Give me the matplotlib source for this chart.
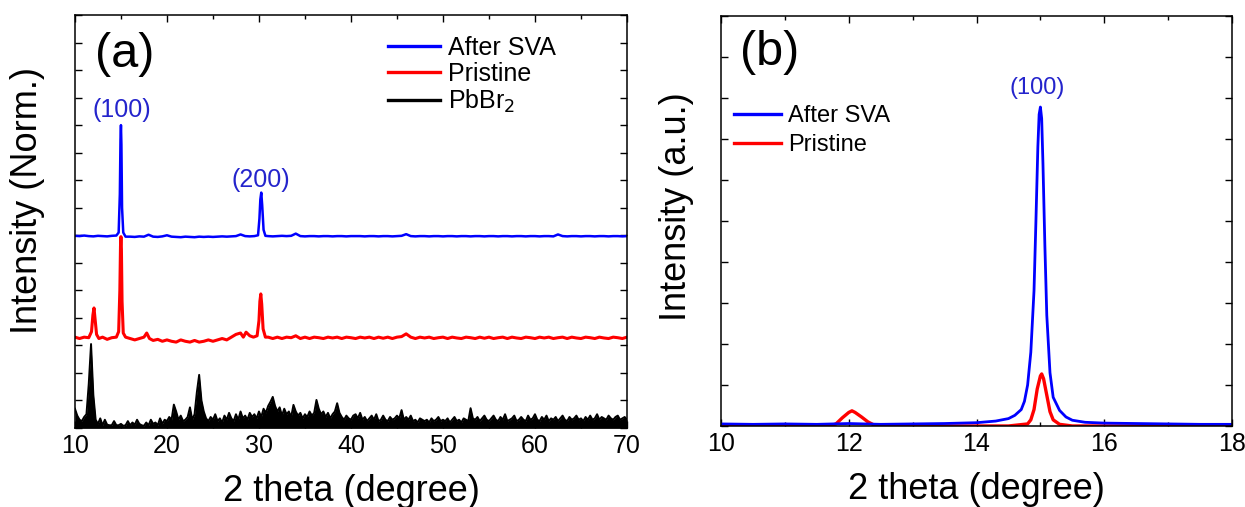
import numpy as np
import matplotlib

matplotlib.use("Agg")
import matplotlib.pyplot as plt
from matplotlib.ticker import MultipleLocator

plt.rcParams["font.family"] = ["Liberation Sans", "DejaVu Sans"]

# ---------------- panel (a): full-range patterns (normalised, stacked) ----------------
# After SVA (blue)
svaA_x = [10, 10.5, 11, 11.5, 12, 12.5, 13, 13.5, 14, 14.5, 14.75, 14.88, 14.95, 15.0,
          15.05, 15.12, 15.25, 15.5]
svaA_y = [6.98, 6.97, 6.99, 6.97, 6.96, 6.98, 6.97, 6.96, 6.98, 6.99, 7.1, 8.5, 10.5, 11.0,
          10.3, 8.0, 7.1, 6.95]
svaB_x = list(np.arange(16, 30, 0.5))
svaB_y = [6.95, 6.94, 6.96, 6.95, 7.02, 6.95, 6.94, 6.96, 7.0, 6.95, 6.94, 6.93, 6.95, 6.94,
          6.93, 6.95, 6.94, 6.95, 6.94, 6.95, 6.96, 6.95, 6.96, 6.97, 7.03, 6.97, 6.96, 6.97]
svaC_x = [29.9, 30.05, 30.15, 30.25, 30.35, 30.5, 30.7]
svaC_y = [7.0, 7.6, 8.3, 8.55, 8.1, 7.2, 6.98]
svaD_x = list(np.arange(31, 70.01, 0.5))
svaD_y = [6.97, 6.96, 6.97, 6.98, 6.97, 6.98, 7.06, 6.97, 6.96, 6.97,
          6.97, 6.96, 6.97, 6.97, 6.96, 6.97, 6.97, 6.96, 6.97, 6.97,
          6.97, 6.96, 6.97, 6.97, 6.96, 6.97, 6.97, 6.96, 6.97, 6.98,
          7.04, 6.97, 6.96, 6.97, 6.97, 6.96, 6.97, 6.97, 6.96, 6.97,
          6.97, 6.96, 6.97, 6.97, 6.96, 6.97, 6.97, 6.96, 6.97, 6.97,
          6.96, 6.97, 6.97, 6.96, 6.97, 6.97, 6.96, 6.97, 6.97, 6.96,
          6.97, 6.97, 6.96, 7.03, 6.97, 6.96, 6.97, 6.97, 6.96, 6.97,
          6.97, 6.96, 6.97, 6.97, 6.96, 6.97, 6.97, 6.96, 6.97]

# Pristine (red)
priA_x = [10, 10.5, 11, 11.5, 11.8, 11.95, 12.07, 12.2, 12.35, 12.6, 13, 13.5, 14, 14.5,
          14.75, 14.88, 14.95, 15.0, 15.05, 15.12, 15.25, 15.5]
priA_y = [3.3, 3.25, 3.3, 3.28, 3.5, 4.1, 4.36, 3.9, 3.4, 3.25, 3.3, 3.22, 3.28, 3.3,
          3.5, 5.0, 6.6, 6.95, 6.5, 4.6, 3.45, 3.3]
priB_x = [16, 16.5, 17, 17.5, 17.8, 18.1, 18.5, 19, 19.5, 20, 20.5, 21, 21.5, 22, 22.5, 23,
          23.5, 24, 24.5, 25, 25.5, 26, 26.5, 27, 27.5, 28, 28.3, 28.6, 29, 29.4, 29.8]
priB_y = [3.25, 3.2, 3.25, 3.3, 3.45, 3.25, 3.18, 3.22, 3.15, 3.2, 3.15, 3.12, 3.2, 3.15,
          3.12, 3.18, 3.12, 3.15, 3.2, 3.15, 3.2, 3.25, 3.2, 3.3, 3.4, 3.45, 3.3, 3.48, 3.35,
          3.3, 3.35]
priC_x = [30.0, 30.1, 30.2, 30.3, 30.45, 30.7]
priC_y = [3.9, 4.6, 4.87, 4.5, 3.6, 3.3]
priD_x = list(np.arange(31, 70.01, 0.5))
priD_y = [3.3, 3.25, 3.3, 3.25, 3.3, 3.28, 3.35, 3.25, 3.3, 3.25,
          3.3, 3.28, 3.25, 3.3, 3.27, 3.3, 3.25, 3.3, 3.28, 3.25,
          3.3, 3.27, 3.3, 3.25, 3.3, 3.26, 3.3, 3.25, 3.3, 3.32,
          3.42, 3.3, 3.25, 3.3, 3.27, 3.3, 3.25, 3.28, 3.3, 3.25,
          3.3, 3.27, 3.25, 3.3, 3.28, 3.25, 3.3, 3.26, 3.3, 3.25,
          3.28, 3.3, 3.25, 3.3, 3.27, 3.25, 3.3, 3.28, 3.25, 3.3,
          3.27, 3.3, 3.25, 3.28, 3.3, 3.25, 3.3, 3.27, 3.25, 3.3,
          3.28, 3.25, 3.3, 3.27, 3.25, 3.3, 3.28, 3.25, 3.3]

# PbBr2 (black), sampled every 0.25 deg from 10 to 70
pbbr_x = np.arange(10, 70.001, 0.25)
pbbr_y = [0.7, 0.45, 0.3, 0.25, 0.4, 0.5, 1.6, 3.05, 1.2, 0.3, 0.15, 0.35, 0.1, 0.3, 0.12, 0.1, 0.1, 0.25, 0.1, 0.1,
          0.15, 0.08, 0.1, 0.25, 0.1, 0.2, 0.12, 0.3, 0.15, 0.1, 0.08, 0.2, 0.1, 0.3, 0.15, 0.2, 0.1, 0.35, 0.15, 0.3,
          0.25, 0.4, 0.3, 0.85, 0.6, 0.3, 0.45, 0.25, 0.3, 0.4, 0.75, 0.3, 0.5, 1.3, 1.93, 1.0, 0.6, 0.35, 0.25, 0.4,
          0.3, 0.5, 0.25, 0.35, 0.2, 0.45, 0.3, 0.55, 0.35, 0.25, 0.5, 0.3, 0.6, 0.35, 0.45, 0.3, 0.55, 0.4, 0.5, 0.35,
          0.6, 0.4, 0.7, 0.55, 0.8, 0.95, 1.13, 0.8, 0.6, 0.75, 0.45, 0.7, 0.5, 0.6, 0.4, 0.84, 0.6, 0.45, 0.55, 0.35,
          0.5, 0.4, 0.6, 0.45, 0.55, 1.02, 0.7, 0.5, 0.6, 0.4, 0.55, 0.35, 0.5, 0.6, 0.9, 0.55, 0.4, 0.3, 0.45, 0.35,
          0.3, 0.45, 0.5, 0.35, 0.55, 0.3, 0.4, 0.25, 0.35, 0.45, 0.3, 0.5, 0.25, 0.3, 0.45, 0.3, 0.25, 0.4, 0.3, 0.35,
          0.45, 0.35, 0.65, 0.3, 0.4, 0.3, 0.45, 0.25, 0.3, 0.2, 0.35, 0.3, 0.25, 0.3, 0.2, 0.35, 0.25, 0.3, 0.4, 0.25,
          0.3, 0.25, 0.35, 0.2, 0.3, 0.4, 0.25, 0.3, 0.2, 0.35, 0.3, 0.25, 0.72, 0.35, 0.3, 0.4, 0.25, 0.35, 0.45, 0.3,
          0.25, 0.35, 0.45, 0.3, 0.25, 0.4, 0.3, 0.5, 0.25, 0.3, 0.35, 0.45, 0.25, 0.3, 0.4, 0.3, 0.25, 0.45, 0.3, 0.35,
          0.5, 0.3, 0.25, 0.4, 0.3, 0.45, 0.25, 0.35, 0.3, 0.4, 0.25, 0.35, 0.45, 0.3, 0.25, 0.4, 0.3, 0.35, 0.45, 0.3,
          0.35, 0.25, 0.4, 0.3, 0.45, 0.3, 0.35, 0.5, 0.3, 0.4, 0.35, 0.3, 0.45, 0.35, 0.3, 0.4, 0.45, 0.3, 0.35, 0.4,
          0.3]

# ---------------- panel (b): zoom around (100), a.u. ----------------
zsva_x = [10, 10.5, 11, 11.5, 12, 12.5, 13, 13.5, 14, 14.3, 14.5, 14.6, 14.7, 14.75, 14.8,
          14.85, 14.9, 14.93, 14.96, 14.98, 15.0, 15.02, 15.04, 15.07, 15.1, 15.15, 15.2,
          15.3, 15.4, 15.5, 15.7, 16, 16.5, 17, 17.5, 18]
zsva_y = [0.05, 0.04, 0.05, 0.04, 0.06, 0.04, 0.05, 0.06, 0.08, 0.12, 0.18, 0.26, 0.4, 0.6, 1.0,
          1.8, 3.3, 5.0, 6.8, 7.6, 7.78, 7.5, 6.4, 4.4, 2.7, 1.3, 0.7, 0.38, 0.22, 0.14, 0.09,
          0.07, 0.06, 0.05, 0.04, 0.04]
zpri_x = [10, 11, 11.7, 11.8, 11.9, 12.0, 12.05, 12.1, 12.2, 12.3, 12.4, 13, 14, 14.5, 14.8,
          14.85, 14.9, 14.95, 15.0, 15.02, 15.05, 15.1, 15.15, 15.2, 15.3, 15.5, 16, 17, 17.8, 18]
zpri_y = [0.0, 0.0, 0.0, 0.05, 0.2, 0.33, 0.37, 0.33, 0.22, 0.1, 0.02, 0.0, 0.0, 0.0, 0.05,
          0.15, 0.4, 0.9, 1.22, 1.27, 1.15, 0.75, 0.35, 0.15, 0.04, 0.0, 0.0, 0.0, 0.03, 0.0]

BLUE, RED, LABEL_BLUE = "#0000ff", "#ff0000", "#2424cc"


def style_axes(ax):
    for s in ax.spines.values():
        s.set_linewidth(1.1)
    ax.tick_params(which="both", direction="in", top=True, right=True, width=1.0,
                   labelleft=False, labelsize=18, pad=4)
    ax.tick_params(which="major", length=5)
    ax.tick_params(which="minor", length=3)


fig = plt.figure(figsize=(12.45, 5.07), dpi=100)
axa = fig.add_axes([0.0602, 0.1558, 0.4434, 0.8146])
axb = fig.add_axes([0.5791, 0.1598, 0.4105, 0.8086])

# ---- (a)
axa.plot(np.concatenate([svaA_x, svaB_x, svaC_x, svaD_x]),
         np.concatenate([svaA_y, svaB_y, svaC_y, svaD_y]), color=BLUE, lw=1.8, label="After SVA")
axa.plot(np.concatenate([priA_x, priB_x, priC_x, priD_x]),
         np.concatenate([priA_y, priB_y, priC_y, priD_y]), color=RED, lw=2.2, label="Pristine")
axa.fill_between(pbbr_x, 0, pbbr_y, color="black", lw=0)
axa.plot(pbbr_x, pbbr_y, color="black", lw=1.4, label="PbBr$_2$")
axa.set_xlim(10, 70)
axa.set_ylim(0, 15)
axa.xaxis.set_major_locator(MultipleLocator(10))
axa.xaxis.set_minor_locator(MultipleLocator(5))
axa.yaxis.set_major_locator(MultipleLocator(1))
style_axes(axa)
axa.set_xlabel("2 theta (degree)", fontsize=26, labelpad=12)
axa.set_ylabel("Intensity (Norm.)", fontsize=26)
axa.yaxis.set_label_coords(-0.055, 0.55)
axa.text(0.09, 0.905, "(a)", transform=axa.transAxes, fontsize=35, ha="center", va="center")
axa.text(15.1, 11.55, "(100)", color=LABEL_BLUE, fontsize=18, ha="center", va="center")
axa.text(30.2, 9.0, "(200)", color=LABEL_BLUE, fontsize=18, ha="center", va="center")
leg = axa.legend(loc="upper left", bbox_to_anchor=(0.567, 0.95), frameon=False, fontsize=18,
                 handlelength=2.1, handletextpad=0.3, labelspacing=0.08, borderpad=0,
                 borderaxespad=0)
for h in leg.get_lines():
    h.set_linewidth(2.4)

# ---- (b)
axb.plot(zpri_x, zpri_y, color=RED, lw=2.4, label="Pristine")
axb.plot(zsva_x, zsva_y, color=BLUE, lw=2.0, label="After SVA")
axb.set_xlim(10, 18)
axb.set_ylim(0, 10)
axb.xaxis.set_major_locator(MultipleLocator(2))
axb.xaxis.set_minor_locator(MultipleLocator(1))
axb.yaxis.set_major_locator(MultipleLocator(1))
style_axes(axb)
axb.set_xlabel("2 theta (degree)", fontsize=26, labelpad=12)
axb.set_ylabel("Intensity (a.u.)", fontsize=26)
axb.yaxis.set_label_coords(-0.052, 0.535)
axb.text(0.096, 0.912, "(b)", transform=axb.transAxes, fontsize=35, ha="center", va="center")
axb.text(14.95, 8.24, "(100)", color=LABEL_BLUE, fontsize=17, ha="center", va="center")
handles, labels = axb.get_legend_handles_labels()
legb = axb.legend(handles[::-1], labels[::-1], loc="upper left", bbox_to_anchor=(0.025, 0.783),
                  frameon=False, fontsize=17, handlelength=2.0, handletextpad=0.3,
                  labelspacing=0.3, borderpad=0, borderaxespad=0)
for h in legb.get_lines():
    h.set_linewidth(2.4)

fig.savefig("out.png", dpi=100)
